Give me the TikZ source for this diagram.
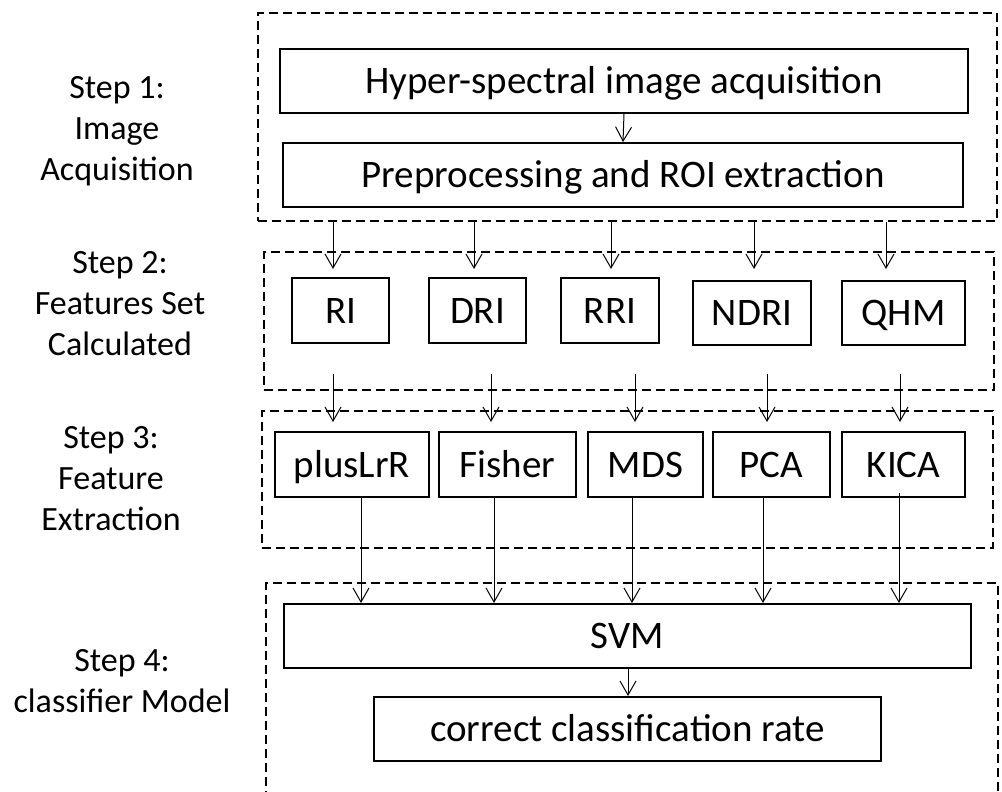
\documentclass[tikz,border=0pt]{standalone}
\usepackage{fontspec}
\setmainfont{Carlito}
\usetikzlibrary{arrows.meta}
\begin{document}
\begin{tikzpicture}[x=1pt,y=-1pt,
  box/.style={draw, line width=2pt, minimum height=64pt, inner sep=0pt, text height=32pt, text depth=6.8pt, font=\fontsize{39}{39}\selectfont},
  frame/.style={draw, dash pattern=on 9pt off 5pt, line width=2pt, inner sep=0pt},
  arr/.style={line width=1pt, -{Straight Barb[length=14pt,width=16pt,line width=1pt]}},
  lbl/.style={align=center, inner sep=0pt, font=\fontsize{34}{41}\selectfont}]
\useasboundingbox (0,0) rectangle (1002,792);

% frames
\node[frame, minimum width=739pt, minimum height=208pt] (f1) at (627.5,117) {};
\node[frame, minimum width=730pt, minimum height=138pt] (f2) at (629,321) {};
\node[frame, minimum width=731pt, minimum height=137pt] (f3) at (627.5,479.5) {};
\draw[frame] (266,800) |- (998,583) -- (998,800);

% step labels
\node[lbl] (s1) at (117,131) {Step 1:\\Image\\Acquisition};
\node[lbl] (s2) at (120,304) {Step 2:\\Features Set\\Calculated};
\node[lbl] (s3) at (111,479) {Step 3:\\Feature\\Extraction};
\node[lbl] (s4) at (122,681.5) {Step 4:\\classifier Model};

% step 1
\node[box, minimum width=688pt] (hyper) at (624,81) {Hyper-spectral image acquisition};
\node[box, minimum width=680pt] (prep) at (623,175) {Preprocessing and ROI extraction};
\draw[arr] (hyper.south) -- (prep.north);

% step 2
\node[box, minimum width=97pt, minimum height=65pt] (ri) at (340.5,310.5) {RI};
\node[box, minimum width=97pt, minimum height=65pt] (dri) at (477.5,310.5) {DRI};
\node[box, minimum width=98pt, minimum height=65pt] (rri) at (610,310.5) {RRI};
\node[box, minimum width=118pt] (ndri) at (752,313) {NDRI};
\node[box, minimum width=123pt] (qhm) at (903.5,313) {QHM};

\draw[arr] ([xshift=-7.5pt]ri.north |- f1.south) -- ([xshift=-7.5pt,yshift=8pt]ri.north);
\draw[arr] ([xshift=-3.5pt]dri.north |- f1.south) -- ([xshift=-3.5pt,yshift=8pt]dri.north);
\draw[arr] ([xshift=1pt]rri.north |- f1.south) -- ([xshift=1pt,yshift=8pt]rri.north);
\draw[arr] ([xshift=2pt]ndri.north |- f1.south) -- ([xshift=2pt,yshift=11pt]ndri.north);
\draw[arr] ([xshift=-17.5pt]qhm.north |- f1.south) -- ([xshift=-17.5pt,yshift=11pt]qhm.north);

% step 3
\node[box, minimum width=154pt, minimum height=65pt] (plus) at (352,464.5) {plusLrR};
\node[box, minimum width=137pt, minimum height=65pt] (fisher) at (507.5,464.5) {Fisher};
\node[box, minimum width=115pt, minimum height=65pt] (mds) at (645.5,464.5) {MDS};
\node[box, minimum width=117pt, minimum height=65pt] (pca) at (771.5,464.5) {PCA};
\node[box, minimum width=123pt, minimum height=65pt] (kica) at (903.5,464.5) {KICA};

\draw[arr] ([xshift=-19pt,yshift=57pt]plus.north) -- ([xshift=-19pt,yshift=9pt]plus.north);
\draw[arr] ([xshift=-16.5pt,yshift=57pt]fisher.north) -- ([xshift=-16.5pt,yshift=9pt]fisher.north);
\draw[arr] ([xshift=-10.5pt,yshift=57pt]mds.north) -- ([xshift=-10.5pt,yshift=9pt]mds.north);
\draw[arr] ([xshift=-4.5pt,yshift=57pt]pca.north) -- ([xshift=-4.5pt,yshift=9pt]pca.north);
\draw[arr] ([xshift=-3.5pt,yshift=57pt]kica.north) -- ([xshift=-3.5pt,yshift=9pt]kica.north);

% step 4
\node[box, minimum width=687pt] (svm) at (627.5,636) {SVM};
\node[box, minimum width=507pt] (ccr) at (627.5,729) {correct classification rate};
\draw[arr] ([xshift=0.5pt]svm.south) -- ([xshift=0.5pt]ccr.north);

\draw[arr] ([xshift=9pt]plus.south) -- ([xshift=9pt]plus.south |- svm.north);
\draw[arr] ([xshift=-13.5pt]fisher.south) -- ([xshift=-13.5pt]fisher.south |- svm.north);
\draw[arr] ([xshift=-13.5pt]mds.south) -- ([xshift=-13.5pt]mds.south |- svm.north);
\draw[arr] ([xshift=-8.5pt]pca.south) -- ([xshift=-8.5pt]pca.south |- svm.north);
\draw[arr] ([xshift=-4.5pt,yshift=5pt]kica.south) -- ([xshift=-4.5pt]kica.south |- svm.north);
\end{tikzpicture}
\end{document}
